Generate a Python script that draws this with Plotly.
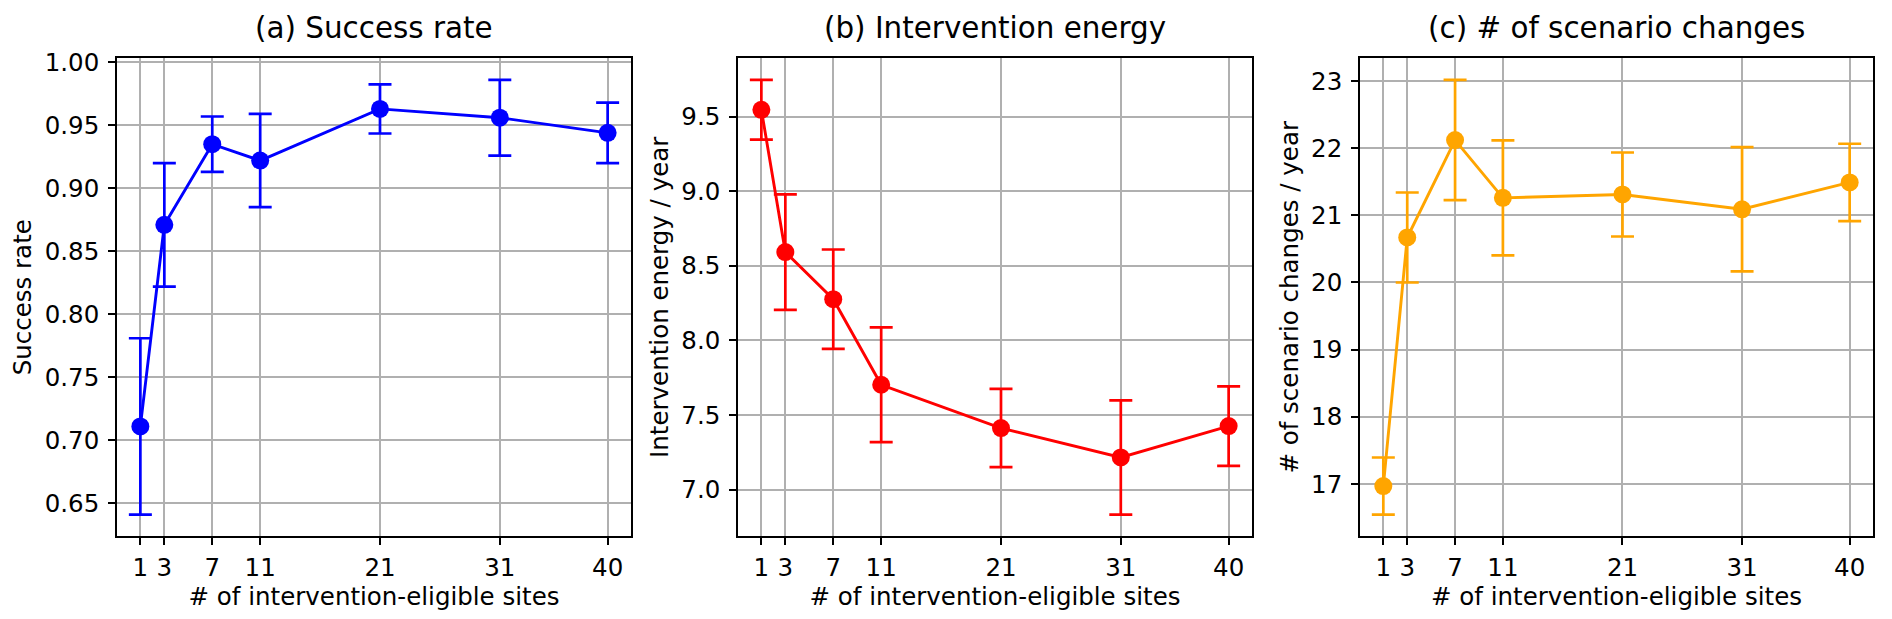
import plotly.graph_objects as go

sites = [1, 3, 7, 11, 21, 31, 40]
x_ticks = [1, 3, 7, 11, 21, 31, 40]

success = [0.711, 0.871, 0.935, 0.922, 0.963, 0.956, 0.944]
success_err = [0.070, 0.049, 0.022, 0.037, 0.0195, 0.030, 0.024]

energy = [9.545, 8.592, 8.276, 7.703, 7.413, 7.216, 7.426]
energy_err = [0.200, 0.387, 0.333, 0.384, 0.262, 0.383, 0.266]

changes = [16.97, 20.67, 22.12, 21.26, 21.31, 21.09, 21.49]
changes_err = [0.425, 0.670, 0.895, 0.855, 0.625, 0.925, 0.575]

titles = ["(a) Success rate", "(b) Intervention energy", "(c) # of scenario changes"]
ylabels = ["Success rate", "Intervention energy / year", "# of scenario changes / year"]
xlabel = "# of intervention-eligible sites"
colors = ["blue", "red", "orange"]
yticks = [
    [0.65, 0.70, 0.75, 0.80, 0.85, 0.90, 0.95, 1.00],
    [7.0, 7.5, 8.0, 8.5, 9.0, 9.5],
    [17, 18, 19, 20, 21, 22, 23],
]
ytickfmt = [".2f", ".1f", "d"]

series = [(success, success_err), (energy, energy_err), (changes, changes_err)]

xdomains = [[117 / 1892, 631 / 1892], [738 / 1892, 1252 / 1892], [1360 / 1892, 1873 / 1892]]
ydomain = [(619 - 535) / 619, (619 - 49) / 619]

FONT = "DejaVu Sans"
FS = 24.5
TFS = 29.4
fig = go.Figure()
layout = dict(
    width=1892, height=619,
    margin=dict(l=0, r=0, t=0, b=0),
    paper_bgcolor="white", plot_bgcolor="white",
    showlegend=False,
    font=dict(family=FONT, size=FS, color="black"),
    annotations=[],
)

def mpl_range(lo, hi):
    pad = (hi - lo) * 0.05
    return [lo - pad, hi + pad]

for i, ((vals, errs), col) in enumerate(zip(series, colors)):
    suffix = "" if i == 0 else str(i + 1)
    fig.add_trace(go.Scatter(
        x=sites, y=vals,
        mode="lines+markers",
        line=dict(color=col, width=2.9),
        marker=dict(color=col, size=18),
        error_y=dict(type="data", array=errs, visible=True, color=col, thickness=2.7, width=11.5),
        xaxis="x" + suffix, yaxis="y" + suffix,
    ))
    lo = min(v - e for v, e in zip(vals, errs))
    hi = max(v + e for v, e in zip(vals, errs))
    common = dict(
        showline=True, linecolor="black", linewidth=1.6, mirror=True,
        showgrid=True, gridcolor="#b0b0b0", gridwidth=1.5,
        ticks="outside", ticklen=7, tickwidth=1.6, tickcolor="black",
        tickfont=dict(family=FONT, size=FS, color="black"),
        zeroline=False,
    )
    layout["xaxis" + suffix] = dict(
        domain=xdomains[i], range=mpl_range(min(sites), max(sites)),
        tickvals=x_ticks, ticktext=[str(t) for t in x_ticks],
        anchor="y" + suffix, ticklabelstandoff=1,
        title=dict(text=xlabel, font=dict(family=FONT, size=FS, color="black"), standoff=3),
        **common,
    )
    layout["yaxis" + suffix] = dict(
        domain=ydomain, range=mpl_range(lo, hi),
        tickvals=yticks[i], tickformat=ytickfmt[i],
        anchor="x" + suffix, ticklabelstandoff=4,
        title=dict(text=ylabels[i], font=dict(family=FONT, size=FS, color="black"), standoff=6),
        **common,
    )
    layout["annotations"].append(dict(
        text=titles[i], xref="paper", yref="paper",
        x=(xdomains[i][0] + xdomains[i][1]) / 2, y=ydomain[1],
        xanchor="center", yanchor="bottom", yshift=11, showarrow=False,
        font=dict(family=FONT, size=TFS, color="black"),
    ))

fig.update_layout(**layout)
fig.write_html(
    "out.html",
    config={"displayModeBar": False},
    post_script="document.body.style.margin='0px';document.body.style.overflow='hidden';",
)
